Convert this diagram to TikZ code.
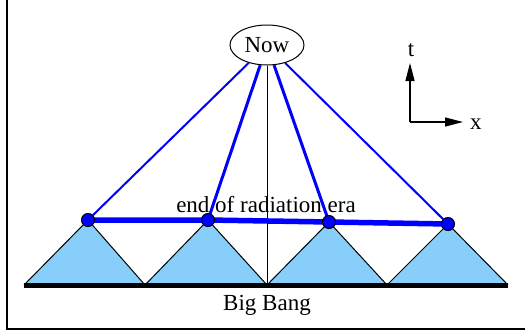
\documentclass[tikz,border=0pt]{standalone}
\usepackage{fontspec}
\setmainfont{Liberation Serif}
\usepackage{xcolor}
\usepackage{tikz}
\usetikzlibrary{
  shapes.geometric,
  arrows.meta,
  positioning,
  calc
}
\definecolor{ptblue}{RGB}{0,0,255}
\definecolor{conefill}{RGB}{135,206,250}

\begin{document}
\begin{tikzpicture}[
  x=1pt, y=-1pt,
  font=\fontsize{23}{27}\selectfont,
  lbl/.style={inner sep=0pt, anchor=base},
  now/.style={ellipse, draw, line width=1pt, minimum width=74pt, minimum height=40pt, inner sep=0pt},
  pt/.style={circle, draw=black, fill=ptblue, line width=1pt, minimum size=13pt, inner sep=0pt},
  cone/.style={fill=conefill, draw=none},
  side/.style={black, line width=1pt},
  ray/.style={ptblue, line width=2pt},
  ax/.style={-{Triangle[length=18pt, width=9pt]}, line width=1.2pt}
]
  \useasboundingbox (0,0) rectangle (525,335);
  % frame
  \draw[line width=1.5pt] (7,0) -- (7,329) -- (525,329);
  % base points and apexes
  \coordinate (b0) at (24,285);  \coordinate (b1) at (145,285);
  \coordinate (b2) at (267,285); \coordinate (b3) at (387,285);
  \coordinate (b4) at (508,285);
  \coordinate (a1) at (88,220);  \coordinate (a2) at (208,220);
  \coordinate (a3) at (329,222); \coordinate (a4) at (448,224);
  % light cones
  \foreach \l/\a/\r in {b0/a1/b1, b1/a2/b2, b2/a3/b3, b3/a4/b4} {
    \fill[cone] (\l) -- (\a) -- (\r) -- cycle;
    \draw[side] (\l) -- (\a) -- (\r);
  }
  \draw[line width=5pt] (b0) -- (b4);
  \node[now] (now) at (267,45) {Now};
  \draw[line width=1pt] (now.south) -- (b2);
  \draw[ray] (now) -- (a1);
  \draw[ray, line width=3pt] (now) -- (a2);
  \draw[ray, line width=3pt] (now) -- (a3);
  \draw[ray] (now) -- (a4);
  \draw[ptblue, line width=5.5pt] (a1) -- (a2) -- (a3) -- (a4);
  \foreach \a in {a1, a2, a3, a4}
    \node[pt] at (\a) {};
  \node[lbl] (rad) at (266,212) {end of radiation era};
  \node[lbl] (bang) at (267,310) {Big Bang};
  % axes
  \coordinate (o) at (410,122);
  \coordinate (tup) at (410,63);
  \coordinate (xr) at (463,122);
  \draw[ax] (o) -- (tup);
  \draw[ax] (o) -- (xr);
  \node[lbl] (tl) at (411,56) {t};
  \node[lbl, anchor=base west] (xl) at (470,129) {x};
\end{tikzpicture}
\end{document}
